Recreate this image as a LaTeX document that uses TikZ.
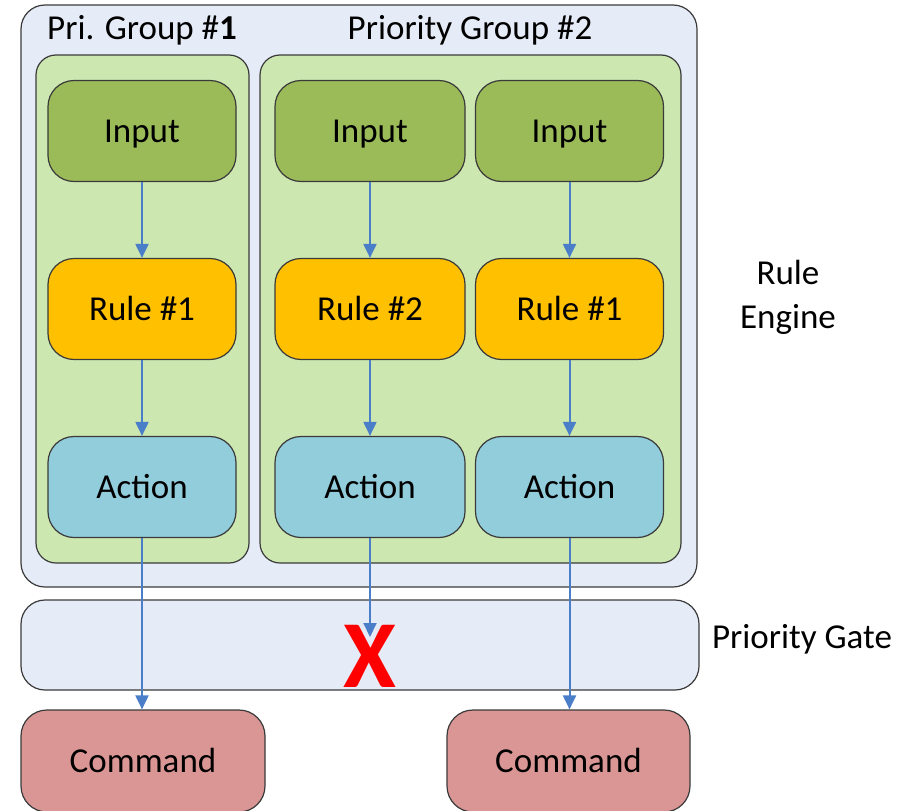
\documentclass[tikz,border=0pt]{standalone}
\usepackage{fontspec}
\setmainfont{Carlito}
\usetikzlibrary{arrows.meta}
\definecolor{engfill}{HTML}{E6ECF7}
\definecolor{grpfill}{HTML}{CDE7B1}
\definecolor{inpfill}{HTML}{9BBB59}
\definecolor{rulefill}{HTML}{FFC000}
\definecolor{actfill}{HTML}{92CDDC}
\definecolor{cmdfill}{HTML}{DA9694}
\definecolor{arrcol}{HTML}{4A7EC8}
\definecolor{edgecol}{HTML}{3A3A3A}
\tikzset{
  panel/.style={draw=edgecol, line width=1.2pt, rounded corners=24pt, inner sep=0pt},
  group/.style={panel, fill=grpfill, rounded corners=20pt},
  stepbox/.style={draw=edgecol, line width=1.2pt, rounded corners=26pt, minimum width=188pt, minimum height=101pt, inner sep=0pt, text height=30pt, text depth=7pt, font=\fontsize{35}{42}\selectfont},
  lbl/.style={inner sep=0pt, font=\fontsize{35}{42}\selectfont},
  flow/.style={draw=arrcol, line width=2pt, -{Triangle[length=14pt,width=13pt]}}
}
\begin{document}
\begin{tikzpicture}[x=1pt,y=-1pt]
\useasboundingbox (0,0) rectangle (897,811);
% panels
\node[panel, fill=engfill, minimum width=676pt, minimum height=582pt] (engine) at (359,296) {};
\node[panel, fill=engfill, minimum width=678pt, minimum height=90pt] (gate) at (360,645) {};
\node[group, minimum width=213pt, minimum height=508pt] (g1) at (142.5,309) {};
\node[group, minimum width=421pt, minimum height=508pt] (g2) at (470.5,309) {};
% titles
\node[lbl, anchor=west] (t1) at (47,30) {Pri. Group \#\textbf{1}};
\node[lbl] (t2) at (470,30) {Priority Group \#2};
\node[lbl, align=center] (re) at (788,297) {Rule\\[2pt]Engine};
\node[lbl] (pg) at (802,639) {Priority Gate};
% boxes
\node[stepbox, fill=inpfill] (i1) at (142,131) {Input};
\node[stepbox, fill=inpfill, minimum width=190pt] (i2) at (370,131) {Input};
\node[stepbox, fill=inpfill] (i3) at (569.5,131) {Input};
\node[stepbox, fill=rulefill] (r1) at (142,309) {Rule \#1};
\node[stepbox, fill=rulefill, minimum width=190pt] (r2) at (370,309) {Rule \#2};
\node[stepbox, fill=rulefill] (r3) at (569.5,309) {Rule \#1};
\node[stepbox, fill=actfill] (a1) at (142,487) {Action};
\node[stepbox, fill=actfill, minimum width=190pt] (a2) at (370,487) {Action};
\node[stepbox, fill=actfill] (a3) at (569.5,487) {Action};
\node[stepbox, fill=cmdfill, minimum width=244pt, minimum height=102pt] (c1) at (143,761) {Command};
\node[stepbox, fill=cmdfill, minimum width=243pt, minimum height=102pt] (c2) at (568.5,761) {Command};
% X
\node[inner sep=0pt, text=red, font=\fontsize{96}{100}\selectfont\bfseries] (x) at (370,656) {X};
\coordinate (xend) at (370,637);
% arrows
\draw[flow] (i1) -- (r1);
\draw[flow] (r1) -- (a1);
\draw[flow] (i2) -- (r2);
\draw[flow] (r2) -- (a2);
\draw[flow] (i3) -- (r3);
\draw[flow] (r3) -- (a3);
\draw[flow] (a1.south) -- (a1.south |- c1.north);
\draw[flow] (a2.south) -- (xend);
\draw[flow] (a3.south) -- (a3.south |- c2.north);
\end{tikzpicture}
\end{document}
